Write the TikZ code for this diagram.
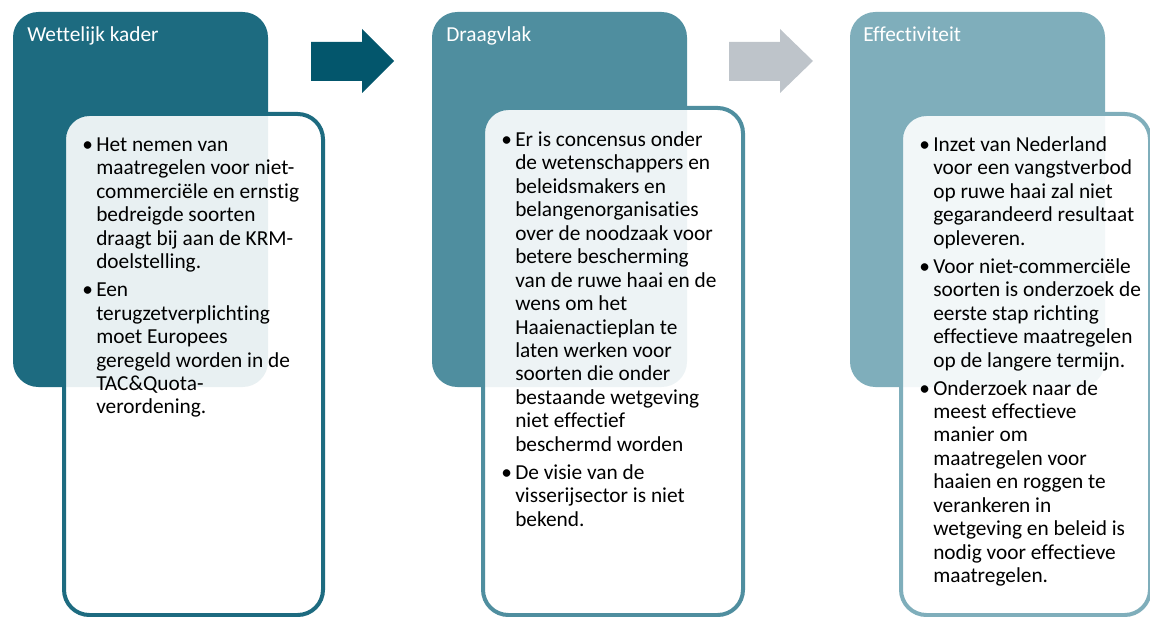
\documentclass[tikz,border=0pt]{standalone}
\usepackage{fontspec}
\setmainfont{Carlito}[Ligatures=NoCommon]
\usepackage{tikz}

\definecolor{kaderteal}{HTML}{1D6B80}
\definecolor{draagteal}{HTML}{4F8E9F}
\definecolor{effectteal}{HTML}{7FAEBB}
\definecolor{arrowteal}{HTML}{03566C}
\definecolor{arrowgrey}{HTML}{BEC4CA}

\newcommand{\bul}{\strut\llap{\textbullet\hspace{2.5pt}}}

\begin{document}
\begin{tikzpicture}[x=0.75pt, y=-0.75pt,
  panel/.style={rounded corners=19pt},
  card/.style={rounded corners=19pt, line width=3pt, fill=white, fill opacity=0.9},
  title/.style={anchor=base west, inner sep=0pt, text=white, font=\fontsize{16}{17.6}\selectfont},
  bullets/.style={anchor=north west, inner sep=0pt, align=left, font=\fontsize{16}{17.6}\selectfont}]
\useasboundingbox (0,0) rectangle (1150,617);
\clip (0,0) rectangle (1150,617);

\fill[panel, kaderteal] (13,12) rectangle (268,387);
\node[title] (kader) at (27,42) {Wettelijk kader};
\draw[card, draw=kaderteal] (64,114) rectangle (323,615);
\node[bullets] (kadertxt) at (96,134.6) {\bul Het nemen van\\ maatregelen voor niet-\\ commerciële en ernstig\\ bedreigde soorten\\ draagt bij aan de KRM-\\ doelstelling.\\[3.4pt]
\bul Een\\ terugzetverplichting\\ moet Europees\\ geregeld worden in de\\ TAC\&Quota-\\ verordening.};
\fill[arrowteal] (311,42) -- (362,42) -- (362,29) -- (394,61) -- (362,93) -- (362,81) -- (311,81) -- cycle;

\fill[panel, draagteal] (432,12) rectangle (687,387);
\node[title] (draag) at (446,42) {Draagvlak};
\draw[card, draw=draagteal] (483,108) rectangle (743,615);
\node[bullets] (draagtxt) at (515,129.6) {\bul Er is concensus onder\\ de wetenschappers en\\ beleidsmakers en\\ belangenorganisaties\\ over de noodzaak voor\\ betere bescherming\\ van de ruwe haai en de\\ wens om het\\ Haaienactieplan te\\ laten werken voor\\ soorten die onder\\ bestaande wetgeving\\ niet effectief\\ beschermd worden\\[3.4pt]
\bul De visie van de\\ visserijsector is niet\\ bekend.};
\fill[arrowgrey] (729,42) -- (780,42) -- (780,29) -- (813,61) -- (780,93) -- (780,81) -- (729,81) -- cycle;

\fill[panel, effectteal] (850,12) rectangle (1105,387);
\node[title] (effect) at (863,42) {Effectiviteit};
\draw[card, draw=effectteal] (901,114) rectangle (1150,615);
\node[bullets] (effecttxt) at (933,134.6) {\bul Inzet van Nederland\\ voor een vangstverbod\\ op ruwe haai zal niet\\ gegarandeerd resultaat\\ opleveren.\\[3.4pt]
\bul Voor niet-commerciële\\ soorten is onderzoek de\\ eerste stap richting\\ effectieve maatregelen\\ op de langere termijn.\\[3.4pt]
\bul Onderzoek naar de\\ meest effectieve\\ manier om\\ maatregelen voor\\ haaien en roggen te\\ verankeren in\\ wetgeving en beleid is\\ nodig voor effectieve\\ maatregelen.};
\end{tikzpicture}
\end{document}
